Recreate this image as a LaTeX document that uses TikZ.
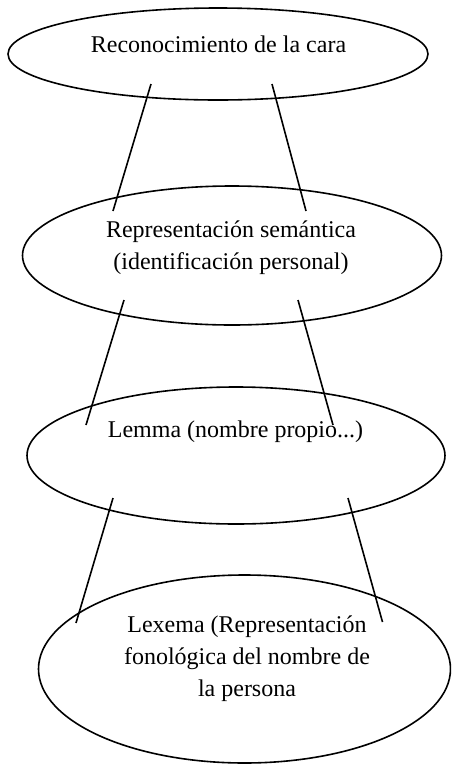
\documentclass[tikz,border=0pt]{standalone}
\usepackage{fontspec}
\setmainfont{Liberation Serif}
\usetikzlibrary{shapes.geometric}
\begin{document}
\begin{tikzpicture}[x=1pt,y=-1pt,
  oval/.style={draw=black, ellipse, line width=1.6pt, inner sep=0pt},
  lbl/.style={font=\fontsize{24}{32}\selectfont, align=center, inner sep=0pt, anchor=base},
  link/.style={draw=black, line width=1.6pt}]
\useasboundingbox (0,0) rectangle (451,764);
\clip (0,0) rectangle (451,764);
% ellipses
\node[oval, minimum width=420pt, minimum height=92pt] (e1) at (218,54) {};
\node[oval, minimum width=419pt, minimum height=139pt] (e2) at (232,255.5) {};
\node[oval, minimum width=418pt, minimum height=137pt] (e3) at (236,455.5) {};
\node[oval, minimum width=412pt, minimum height=188pt] (e4) at (244.5,669) {};
% texts (base anchor = baseline of the last line)
\node[lbl] (t1) at (218.5,52.3) {Reconocimiento de la cara};
\node[lbl] (t2) at (231,269) {Representación semántica\\(identificación personal)};
\node[lbl] (t3) at (235.5,437) {Lemma (nombre propio...)};
\node[lbl] (t4) at (247,696.7) {Lexema (Representación\\fonológica del nombre de\\la persona};
% connector ends
\coordinate (a1) at (151,84);  \coordinate (a2) at (113,211);
\coordinate (b1) at (272,84);  \coordinate (b2) at (306,211);
\coordinate (c1) at (124,300); \coordinate (c2) at (86,425);
\coordinate (d1) at (298,300); \coordinate (d2) at (333,425);
\coordinate (f1) at (113,498); \coordinate (f2) at (76,623);
\coordinate (g1) at (348,498); \coordinate (g2) at (382.5,622);
\draw[link] (a1) -- (a2);
\draw[link] (b1) -- (b2);
\draw[link] (c1) -- (c2);
\draw[link] (d1) -- (d2);
\draw[link] (f1) -- (f2);
\draw[link] (g1) -- (g2);
\end{tikzpicture}
\end{document}
